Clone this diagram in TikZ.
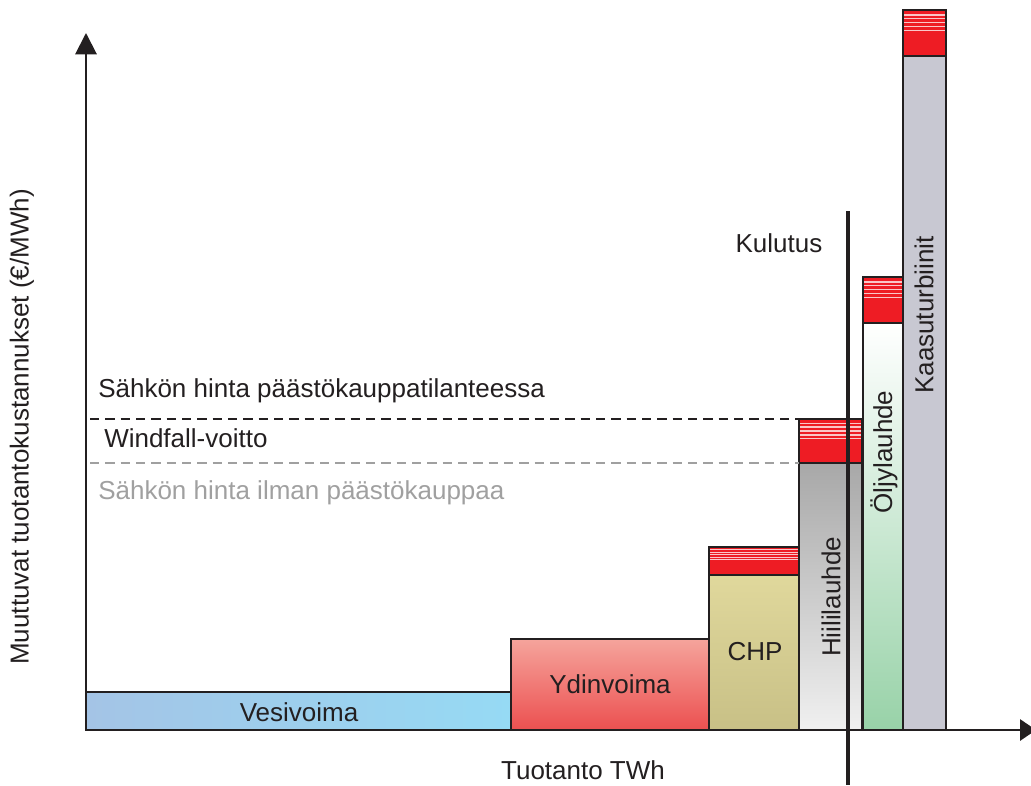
\documentclass[tikz,border=0pt]{standalone}
\usepackage{fontspec}
\setmainfont{Liberation Sans}
\usetikzlibrary{arrows.meta}
\definecolor{ink}{HTML}{231F20}
\definecolor{capred}{HTML}{EE1C24}
\definecolor{txtgray}{HTML}{A0A0A0}
\definecolor{vesiL}{RGB}{164,196,230}
\definecolor{vesiR}{RGB}{150,218,244}
\definecolor{ydinT}{RGB}{245,164,156}
\definecolor{ydinB}{RGB}{236,80,80}
\definecolor{chpT}{RGB}{224,216,156}
\definecolor{chpB}{RGB}{200,192,134}
\definecolor{hiiliT}{RGB}{168,168,168}
\definecolor{hiiliB}{RGB}{240,240,240}
\definecolor{oljB}{RGB}{152,210,168}
\definecolor{kaasu}{RGB}{200,200,210}
\tikzset{
  px/.style={x=0.75pt,y=-0.75pt},
  barline/.style={draw=ink,line width=1.6pt},
  axisline/.style={draw=ink,line width=1.5pt},
  lbl/.style={font=\fontsize{19.5}{22}\selectfont,text=ink,inner sep=0pt},
  dashblack/.style={draw=ink,line width=1.5pt,dash pattern=on 7pt off 4.5pt},
  dashgray/.style={draw=txtgray,line width=1.5pt,dash pattern=on 7pt off 4.5pt},
}
\newcommand{\redcap}[4]{% x1 y1 x2 y2
  \fill[capred] (#1,#2) rectangle (#3,#4);
  \foreach \k in {1,...,5}{
    \fill[white,opacity=0.75] (#1,{#2+\k*(#4-#2)*0.085}) rectangle (#3,{#2+\k*(#4-#2)*0.085+(#4-#2)*0.035});
  }
  \draw[barline] (#1,#2) rectangle (#3,#4);
}
\begin{document}
\begin{tikzpicture}[px]
\useasboundingbox (0,0) rectangle (1031,785);
% bars
\shade[left color=vesiL, right color=vesiR] (86,692) rectangle (511,730);
\draw[barline] (86,692) rectangle (511,730);
\node[lbl] (vesi) at (299,712) {Vesivoima};

\shade[top color=ydinT, bottom color=ydinB] (511,639) rectangle (709,730);
\draw[barline] (511,639) rectangle (709,730);
\node[lbl] (ydin) at (610,684) {Ydinvoima};

\shade[top color=chpT, bottom color=chpB] (709,575) rectangle (799,730);
\draw[barline] (709,575) rectangle (799,730);
\redcap{709}{547}{799}{575}
\node[lbl] (chp) at (755,652) {CHP};

\shade[top color=hiiliT, bottom color=hiiliB] (799,463) rectangle (862,730);
\draw[barline] (799,463) rectangle (862,730);
\redcap{799}{419}{862}{463}
\node[lbl,rotate=90] (hiili) at (831,597) {Hiililauhde};

\shade[top color=white, bottom color=oljB] (863,323) rectangle (903,730);
\draw[barline] (863,323) rectangle (903,730);
\redcap{863}{277}{903}{323}
\node[lbl,rotate=90] (olj) at (884,452) {Öljylauhde};

\fill[kaasu] (903,56) rectangle (946,730);
\draw[barline] (903,56) rectangle (946,730);
\redcap{903}{10}{946}{56}
\node[lbl,rotate=90] (kaasut) at (924,315) {Kaasuturbiinit};

% price lines
\draw[dashblack] (90,419) -- (799,419);
\draw[dashgray] (90,463) -- (799,463);
\node[lbl,anchor=base west] (hinta1) at (98,397) {Sähkön hinta päästökauppatilanteessa};
\node[lbl,anchor=base west] (windfall) at (104,447) {Windfall-voitto};
\node[lbl,anchor=base west,text=txtgray] (hinta2) at (98,499) {Sähkön hinta ilman päästökauppaa};

% axes
\coordinate (o) at (86,730);
\coordinate (ytop) at (86,33);
\coordinate (xend) at (1036,730);
\draw[axisline,-{Triangle[width=16pt,length=16pt]}] (o) -- (ytop);
\draw[axisline,-{Triangle[width=16pt,length=12pt]}] (o) -- (xend);
\node[lbl,rotate=90] (ylab) at (22,427) {Muuttuvat tuotantokustannukset (€/MWh)};
\node[lbl] (xlab) at (583,770) {Tuotanto TWh};

% consumption line
\coordinate (k1) at (848,211);
\coordinate (k2) at (848,785);
\draw[draw=ink,line width=3pt] (k1) -- (k2);
\node[lbl] (kul) at (779,243) {Kulutus};
\end{tikzpicture}
\end{document}
